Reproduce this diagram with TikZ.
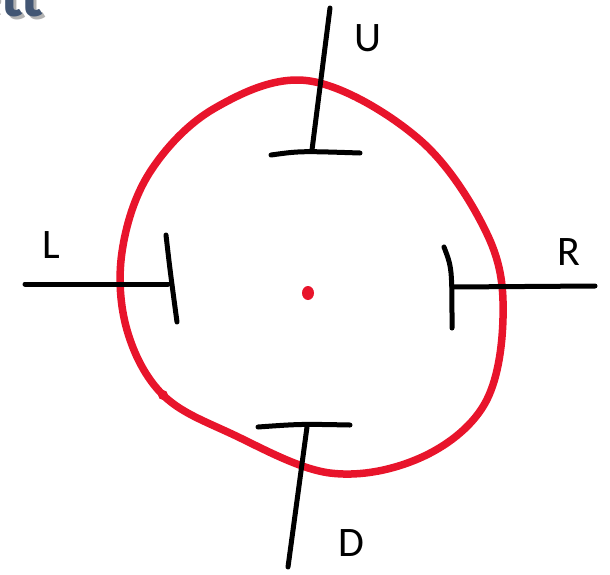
\documentclass[tikz,border=0pt]{standalone}
\usepackage{fontspec}
\setmainfont{Carlito}
\usetikzlibrary{positioning}
\definecolor{red}{HTML}{E8142B}
\definecolor{titleBlue}{HTML}{425674}
\tikzset{
  pen/.style={line width=5pt,line cap=round,line join=round},
  dirLabel/.style={font=\fontsize{42}{44}\selectfont,inner sep=0pt}
}
\begin{document}
\begin{tikzpicture}[x=1pt,y=-1pt]
  \useasboundingbox (0,0) rectangle (610,574);
  \clip (0,0) rectangle (610,574);
  % cut-off title
  \node[anchor=base west,inner sep=0pt,text=black!30,
        font=\fontsize{66}{70}\selectfont\bfseries] at (-30,19) {ett};
  \node[anchor=base west,inner sep=0pt,text=titleBlue,
        font=\fontsize{66}{70}\selectfont\bfseries] (title) at (-33,16) {ett};
  % the loop
  \draw[red,line width=7.5pt,line join=round] plot[smooth cycle,tension=0.6] coordinates {
    (310,81) (420,140) (488,236) (503,318) (484,405) (420,458)
    (330,473) (232,434) (163,395) (127,330) (122,252) (150,172)
    (215,108)};
  \fill[red] (163,395) circle (5pt);
  \fill[red] (308,293) ellipse (6pt and 7pt);
  % the four stops
  \coordinate (uTop) at (330,8);  \coordinate (uFoot) at (312,150);
  \draw[pen] (uTop) -- (uFoot);
  \draw[pen] (271,155) .. controls (300,151) .. (360,153);
  \coordinate (lEnd) at (25,284); \coordinate (lFoot) at (168,284);
  \draw[pen] (lEnd) -- (lFoot);
  \draw[pen] (166,235) .. controls (170,270) .. (177,322);
  \coordinate (rEnd) at (595,286); \coordinate (rFoot) at (452,287);
  \draw[pen] (rEnd) -- (rFoot);
  \draw[pen] (444,247) .. controls (452,268) .. (452,328);
  \coordinate (dEnd) at (288,567); \coordinate (dFoot) at (307,427);
  \draw[pen] (dFoot) -- (dEnd);
  \draw[pen] (258,427) .. controls (300,424) .. (350,425);
  % labels
  \node[dirLabel] (up) at (368,38) {U};
  \node[dirLabel] (left) at (51,245) {L};
  \node[dirLabel] (right) at (569,252) {R};
  \node[dirLabel] (down) at (351,543) {D};
\end{tikzpicture}
\end{document}
